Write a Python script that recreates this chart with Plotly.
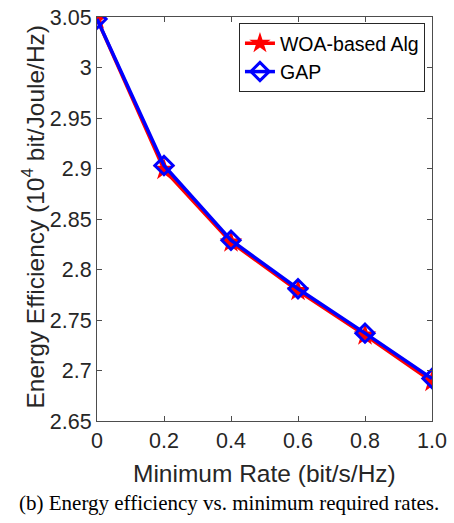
import plotly.graph_objects as go

rates = [0, 0.2, 0.4, 0.6, 0.8, 1.0]
x_tick_labels = ["0", "0.2", "0.4", "0.6", "0.8", "1.0"]
woa = [3.048, 2.899, 2.827, 2.779, 2.735, 2.689]
gap = [3.048, 2.903, 2.829, 2.781, 2.737, 2.692]
y_ticks = [2.65, 2.7, 2.75, 2.8, 2.85, 2.9, 2.95, 3.0, 3.05]
y_tick_labels = ["2.65", "2.7", "2.75", "2.8", "2.85", "2.9", "2.95", "3", "3.05"]

SANS = "Liberation Sans, Arial, Helvetica"
SERIF = "Liberation Serif, Times New Roman, serif"

fig = go.Figure()
fig.add_trace(go.Scatter(
    x=rates, y=woa, name="WOA-based Alg", mode="lines+markers",
    line=dict(color="#ff0000", width=3.5),
    marker=dict(symbol="star", size=17, color="#ff0000", line=dict(width=0)),
))
fig.add_trace(go.Scatter(
    x=rates, y=gap, name="GAP", mode="lines+markers",
    line=dict(color="#0000ff", width=3.5),
    marker=dict(symbol="diamond-open", size=14, color="#0000ff", line=dict(width=3, color="#0000ff")),
))

axis_common = dict(
    showgrid=False, zeroline=False, showline=True, mirror="ticks", automargin=False,
    linecolor="#4d4d4d", linewidth=1, ticks="inside", ticklen=5,
    tickcolor="#4d4d4d", tickfont=dict(family=SANS, size=21.5, color="#262626"),
)
fig.update_layout(
    width=454, height=523,
    margin=dict(l=97, r=22, t=17, b=102),
    paper_bgcolor="white", plot_bgcolor="white",
    font=dict(family=SANS, color="#262626"),
    xaxis=dict(range=[0, 1.0], tickvals=rates, ticktext=x_tick_labels, **axis_common),
    yaxis=dict(range=[2.65, 3.05], tickvals=y_ticks, ticktext=y_tick_labels, **axis_common),
    legend=dict(
        x=0.979, y=0.985, xanchor="right", yanchor="top",
        bgcolor="white", bordercolor="#262626", borderwidth=1,
        font=dict(family=SANS, size=19.5, color="black"),
        tracegroupgap=0, itemwidth=30,
    ),
    showlegend=True,
    annotations=[
        dict(text="Minimum Rate (bit/s/Hz)", x=0.5, y=-0.131, xref="paper", yref="paper",
             xanchor="center", yanchor="middle", showarrow=False,
             font=dict(family=SANS, size=24.5, color="#262626")),
        dict(text="Energy Efficiency (10<sup>4</sup> bit/Joule/Hz)", x=(33 - 97) / 335, y=0.506,
             xref="paper", yref="paper", xanchor="center", yanchor="middle", textangle=-90,
             showarrow=False, font=dict(family=SANS, size=24.5, color="#262626")),
        dict(text="(b) Energy efficiency vs. minimum required rates.", x=0.394, y=-0.203,
             xref="paper", yref="paper", xanchor="center", yanchor="middle", showarrow=False,
             font=dict(family=SERIF, size=21, color="black")),
    ],
)
fig.write_html("out.html", config={"displayModeBar": False},
               post_script="document.body.style.margin='0';document.body.style.overflow='hidden';")
